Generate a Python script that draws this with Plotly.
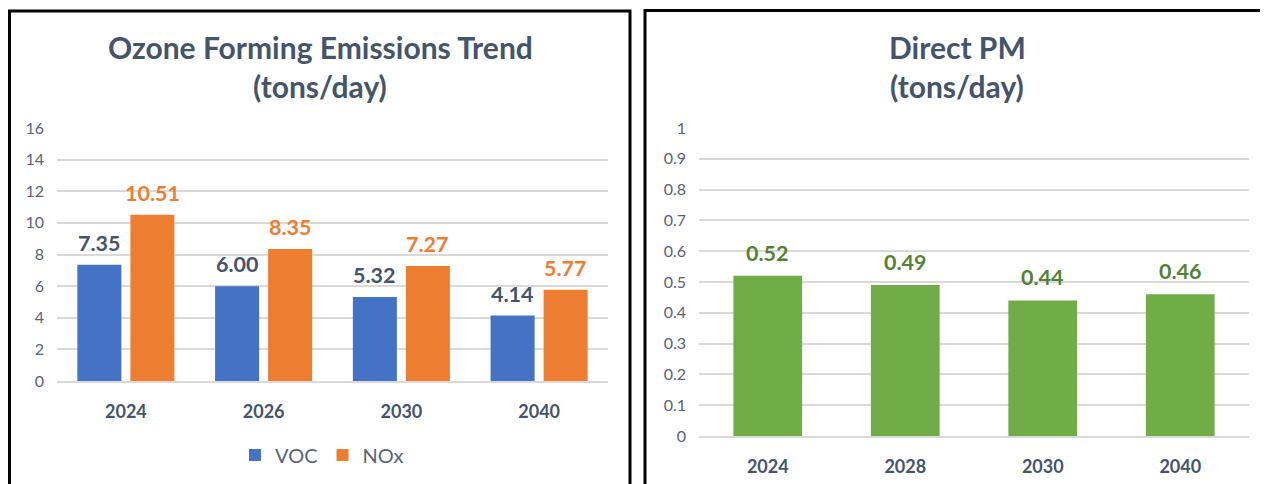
import plotly.graph_objects as go

# ---------------- data ----------------
years_left = ["2024", "2026", "2030", "2040"]
voc = [7.35, 6.00, 5.32, 4.14]
nox = [10.51, 8.35, 7.27, 5.77]
left_ticks = [0, 2, 4, 6, 8, 10, 12, 14, 16]

years_right = ["2024", "2028", "2030", "2040"]
pm = [0.52, 0.49, 0.44, 0.46]
right_ticks = [0, 0.1, 0.2, 0.3, 0.4, 0.5, 0.6, 0.7, 0.8, 0.9, 1]

left_title = ["Ozone Forming Emissions Trend", "(tons/day)"]
right_title = ["Direct PM", "(tons/day)"]

# ---------------- styling ----------------
PAGE_OFF = 8            # browser body margin
W, H = 1268 - PAGE_OFF, 484 - PAGE_OFF
FONT = "Lato"
SLATE = "#44546A"
TICKC = "#5A6275"
GRID = "#D9D9D9"
BLUE = "#4472C4"
ORANGE = "#ED7D31"
GREEN = "#70AD47"
GREEN_TXT = "#548235"


def px(x):
    return (x - PAGE_OFF) / W


def py(y):
    return 1 - (y - PAGE_OFF) / H


fig = go.Figure()

fig.add_trace(go.Bar(x=years_left, y=voc, name="VOC", marker=dict(color=BLUE, line=dict(width=0)),
                     xaxis="x", yaxis="y", hoverinfo="x+y"))
fig.add_trace(go.Bar(x=years_left, y=nox, name="NOx", marker=dict(color=ORANGE, line=dict(width=0)),
                     xaxis="x", yaxis="y", hoverinfo="x+y"))
fig.add_trace(go.Bar(x=years_right, y=pm, name="PM", marker=dict(color=GREEN, line=dict(width=0)),
                     xaxis="x2", yaxis="y2", showlegend=False, width=0.5, hoverinfo="x+y"))

annotations = []
# data labels (x given as category index)
for i, v in enumerate(voc):
    annotations.append(dict(x=i, y=v, xref="x", yref="y", text=f"{v:.2f}", showarrow=False,
                            xshift=-26.5, yshift=22, yanchor="middle",
                            font=dict(family=FONT, size=21.5, color=SLATE, weight="bold")))
for i, v in enumerate(nox):
    annotations.append(dict(x=i, y=v, xref="x", yref="y", text=f"{v:.2f}", showarrow=False,
                            xshift=26.5, yshift=22, yanchor="middle",
                            font=dict(family=FONT, size=21.5, color=ORANGE, weight="bold")))
for i, v in enumerate(pm):
    annotations.append(dict(x=i, y=v, xref="x2", yref="y2", text=f"{v:.2f}", showarrow=False,
                            yshift=23, yanchor="middle",
                            font=dict(family=FONT, size=21.5, color=GREEN_TXT, weight="bold")))

# titles
for i, t in enumerate(left_title):
    annotations.append(dict(x=px(320), y=py(47 + 39 * i), xref="paper", yref="paper", text=t,
                            showarrow=False, xanchor="center", yanchor="middle",
                            font=dict(family=FONT, size=30, color=SLATE, weight="bold")))
for i, t in enumerate(right_title):
    annotations.append(dict(x=px(957), y=py(47 + 39 * i), xref="paper", yref="paper", text=t,
                            showarrow=False, xanchor="center", yanchor="middle",
                            font=dict(family=FONT, size=30, color=SLATE, weight="bold")))

shapes = [
    dict(type="rect", xref="paper", yref="paper", x0=px(9.5), x1=px(630), y0=-0.2, y1=py(11),
         line=dict(color="black", width=3), fillcolor="rgba(0,0,0,0)", layer="above"),
    dict(type="rect", xref="paper", yref="paper", x0=px(645), x1=1.2, y0=-0.2, y1=py(10.5),
         line=dict(color="black", width=3), fillcolor="rgba(0,0,0,0)", layer="above"),
]

yax_common = dict(showgrid=True, gridcolor=GRID, gridwidth=1.5, zeroline=False, showline=False,
                  ticks="", tickfont=dict(family=FONT, size=16, color=TICKC), ticklabelstandoff=12,
                  fixedrange=True, automargin=False)
xax_common = dict(showgrid=False, showline=True, linecolor=GRID, linewidth=1.5, ticks="",
                  tickfont=dict(family=FONT, size=18, color=SLATE, weight="bold"),
                  ticklabelstandoff=14, fixedrange=True, type="category", automargin=False)

fig.update_layout(
    width=W, height=H,
    margin=dict(l=0, r=0, t=0, b=0, autoexpand=False),
    paper_bgcolor="white", plot_bgcolor="white",
    barmode="group", bargap=0.23, bargroupgap=0.17,
    xaxis=dict(domain=[px(57), px(608)], anchor="y", range=[-0.5, 3.5], **xax_common),
    yaxis=dict(domain=[py(381), py(128)], range=[0, 16], tickvals=left_ticks, anchor="x", **yax_common),
    xaxis2=dict(domain=[px(699), px(1249)], anchor="y2", range=[-0.5, 3.5], **xax_common),
    yaxis2=dict(domain=[py(436), py(128)], range=[0, 1], tickvals=right_ticks,
                ticktext=[f"{t:g}" for t in right_ticks], anchor="x2", **yax_common),
    legend=dict(orientation="h", x=px(322), y=py(455), xanchor="center", yanchor="middle",
                font=dict(family=FONT, size=20, color=TICKC),
                bgcolor="rgba(0,0,0,0)", traceorder="normal"),
    annotations=annotations,
    shapes=shapes,
    showlegend=True,
)

fig.write_html("out.html")
